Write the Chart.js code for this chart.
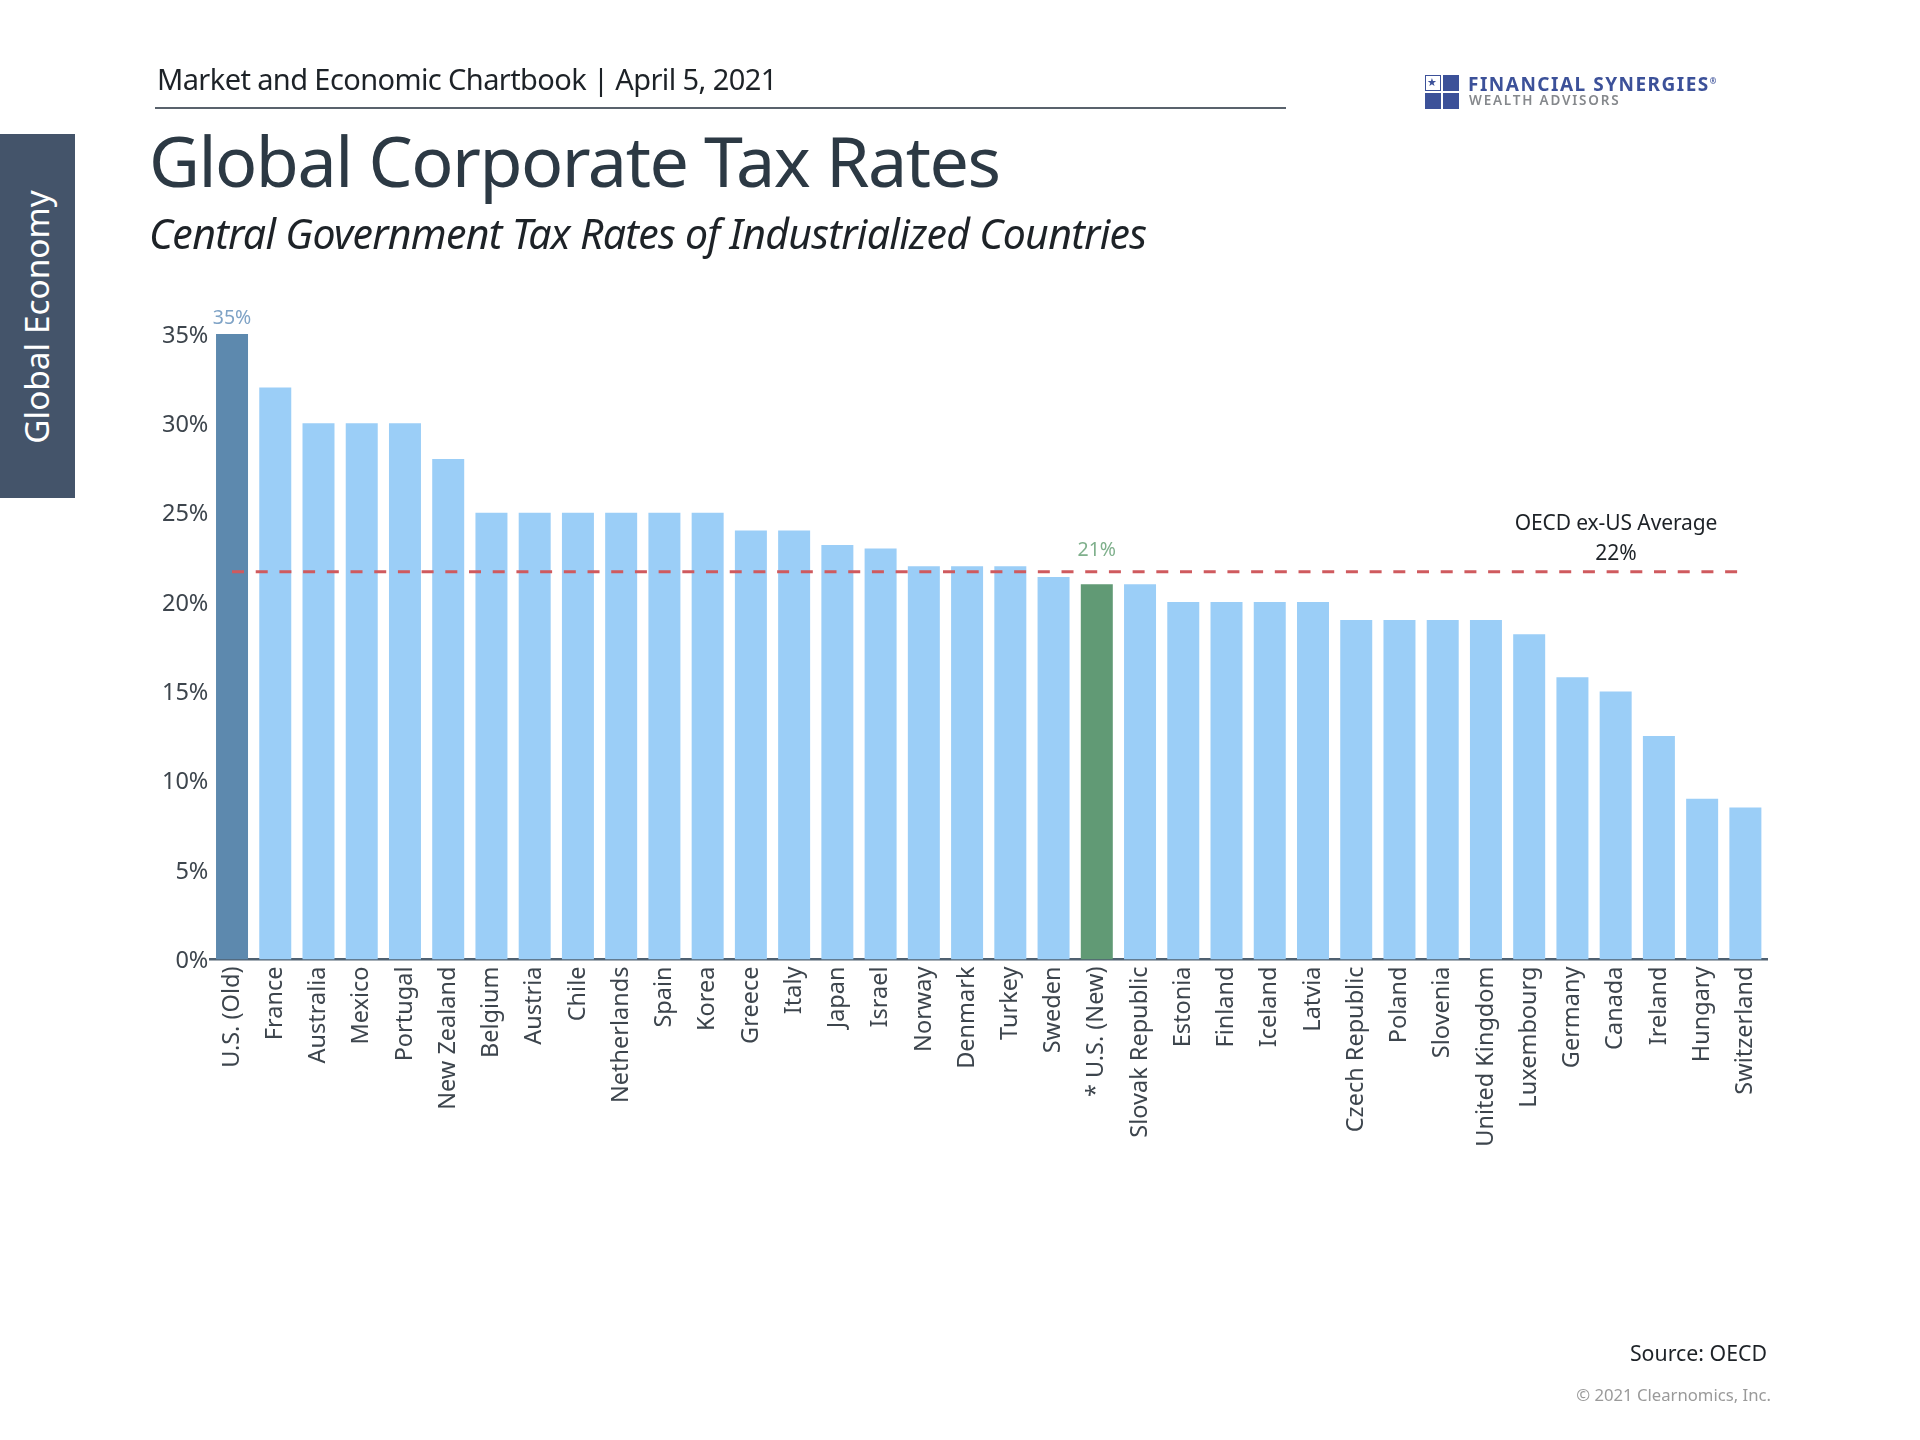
<!DOCTYPE html>
<html>
<head>
<meta charset="utf-8">
<title>Global Corporate Tax Rates</title>
<script src="https://cdn.jsdelivr.net/npm/chart.js@4"></script>
<style>
  html, body { margin: 0; padding: 0; background: #fff; }
  #page { position: relative; width: 1920px; height: 1440px; overflow: hidden; font-family: "Noto Sans", sans-serif; }
  #page canvas { position: absolute; left: 0; top: 0; }
  .txt { position: absolute; white-space: nowrap; line-height: 1; }
  #side { position: absolute; left: 0; top: 134px; width: 75px; height: 364px; background: #44546a; }
  #sideText { position: absolute; left: 36px; top: 317px; color: #fff; font-size: 33.4px; transform: translate(-50%, -50%) rotate(-90deg); white-space: nowrap; }
  #rule { position: absolute; left: 155px; top: 107px; width: 1131px; height: 2px; background: #59626c; }
  .sq { position: absolute; width: 16px; height: 16px; background: #3c5199; box-sizing: border-box; }
</style>
</head>
<body>
<div id="page">
  <canvas id="chart" width="1920" height="1440"></canvas>
  <div class="txt" style="left:157px;top:64px;font-size:29px;color:#1d2227;letter-spacing:-0.6px">Market and Economic Chartbook | April 5, 2021</div>
  <div id="rule"></div>
  <div id="side"></div>
  <div id="sideText">Global Economy</div>
  <div class="txt" style="left:149px;top:125px;font-size:70px;color:#2c3944;letter-spacing:-1.5px">Global Corporate Tax Rates</div>
  <div class="txt" style="left:149px;top:213px;font-size:41px;font-style:italic;color:#1d2227;letter-spacing:-0.7px">Central Government Tax Rates of Industrialized Countries</div>

  <div class="sq" style="left:1425px;top:75px;background:#fff;border:1.5px solid #3c5199;color:#3c5199;font-size:11px;line-height:11px;padding-left:1px">★</div>
  <div class="sq" style="left:1443px;top:75px"></div>
  <div class="sq" style="left:1425px;top:93px"></div>
  <div class="sq" style="left:1443px;top:93px"></div>
  <div class="txt" style="left:1468px;top:75px;font-size:19px;font-weight:700;color:#3c5199;letter-spacing:1.5px">FINANCIAL SYNERGIES<sup style="font-size:8px;vertical-align:7px">®</sup></div>
  <div class="txt" style="left:1469px;top:94px;font-size:13.5px;font-weight:600;color:#85888c;letter-spacing:1.8px">WEALTH ADVISORS</div>

  <div class="txt" style="left:1616px;top:512px;font-size:21px;color:#1d2227;letter-spacing:-0.1px;transform:translateX(-50%)">OECD ex-US Average</div>
  <div class="txt" style="left:1616px;top:542px;font-size:21px;color:#1d2227;transform:translateX(-50%)">22%</div>
  <div class="txt" style="right:153px;top:1342px;font-size:21.3px;color:#1d2227">Source: OECD</div>
  <div class="txt" style="right:149px;top:1387px;font-size:16.7px;color:#9a9a9a">© 2021 Clearnomics, Inc.</div>
</div>
<script>
var COUNTRIES = [
  "U.S. (Old)", "France", "Australia", "Mexico", "Portugal", "New Zealand",
  "Belgium", "Austria", "Chile", "Netherlands", "Spain", "Korea",
  "Greece", "Italy", "Japan", "Israel", "Norway", "Denmark",
  "Turkey", "Sweden", "* U.S. (New)", "Slovak Republic", "Estonia", "Finland",
  "Iceland", "Latvia", "Czech Republic", "Poland", "Slovenia", "United Kingdom",
  "Luxembourg", "Germany", "Canada", "Ireland", "Hungary", "Switzerland",
];
var TAX_RATES = [
  35, 32, 30, 30, 30, 28,
  25, 25, 25, 25, 25, 25,
  24, 24, 23.2, 23, 22, 22,
  22, 21.4, 21, 21, 20, 20,
  20, 20, 19, 19, 19, 19,
  18.2, 15.8, 15, 12.5, 9, 8.5,
];
var OECD_AVG = 21.7;
var OECD_LINE_X = [0, 34.82]; // dashed line stops inside the second-last bar

var BAR_COLOR = "#9bcef7";
var OLD_US_COLOR = "#5d89ae";
var NEW_US_COLOR = "#619a75";

var barColors = COUNTRIES.map(function (name) {
  if (name === "U.S. (Old)") return OLD_US_COLOR;
  if (name === "* U.S. (New)") return NEW_US_COLOR;
  return BAR_COLOR;
});

// the two callouts above the US bars
var usLabels = {
  id: "usLabels",
  afterDatasetsDraw: function (chart) {
    var ctx = chart.ctx;
    var x = chart.scales.x;
    var y = chart.scales.y;
    ctx.save();
    ctx.font = '19.5px "Noto Sans"';
    ctx.textAlign = "center";
    ctx.textBaseline = "middle";
    ctx.fillStyle = "#7fa3c6";
    ctx.fillText("35%", x.getPixelForValue(0), y.getPixelForValue(TAX_RATES[0]) - 16);
    ctx.fillStyle = "#7fb08c";
    ctx.fillText("21%", x.getPixelForValue(20), y.getPixelForValue(TAX_RATES[20]) - 34);
    ctx.restore();
  },
};

new Chart(document.getElementById("chart"), {
  type: "bar",
  data: {
    labels: COUNTRIES,
    datasets: [
      {
        type: "line",
        data: OECD_LINE_X.map(function (v) {
          return { x: v, y: OECD_AVG };
        }),
        xAxisID: "x2",
        borderColor: "#cf5a5e",
        borderWidth: 3,
        borderDash: [12, 11.7],
        pointRadius: 0,
        order: 0,
      },
      {
        type: "bar",
        data: TAX_RATES,
        backgroundColor: barColors,
        borderWidth: 0,
        grouped: false,
        categoryPercentage: 0.74,
        barPercentage: 1,
        order: 1,
      },
    ],
  },
  options: {
    responsive: false,
    devicePixelRatio: 1,
    animation: false,
    layout: { padding: { top: 334, right: 153, left: 0, bottom: 0 } },
    plugins: { legend: { display: false }, tooltip: { enabled: false } },
    scales: {
      x: {
        type: "category",
        offset: true,
        grid: { display: false, drawTicks: false },
        border: { color: "#4f6070", width: 2.5 },
        ticks: {
          autoSkip: false,
          minRotation: 90,
          maxRotation: 90,
          padding: 7,
          color: "#3d454d",
          font: { family: "Noto Sans", size: 23.5 },
        },
        afterFit: function (scale) {
          scale.height = 480.5;
        },
      },
      x2: { type: "linear", display: false, offset: false, min: -0.5, max: 35.5 },
      y: {
        min: 0,
        max: 35,
        grid: { display: false, drawTicks: false },
        border: { display: false },
        ticks: {
          stepSize: 5,
          padding: 2,
          labelOffset: 2,
          color: "#3d454d",
          font: { family: "Noto Sans", size: 23.5 },
          callback: function (v) {
            return v + "%";
          },
        },
        afterFit: function (scale) {
          scale.width = 210.4;
        },
      },
    },
  },
  plugins: [usLabels],
});
</script>
</body>
</html>
